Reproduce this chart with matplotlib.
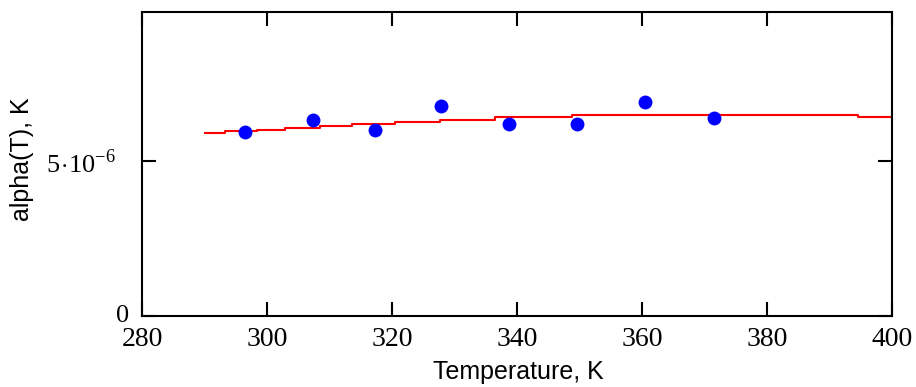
import numpy as np
import matplotlib
matplotlib.use('Agg')
import matplotlib.pyplot as plt

plt.rcParams['mathtext.fontset'] = 'custom'
plt.rcParams['mathtext.rm'] = 'Liberation Serif'

# measured points
temp = np.array([296.5, 307.4, 317.3, 327.8, 338.7, 349.6, 360.5, 371.5])
alpha = np.array([5.94, 6.32, 6.00, 6.77, 6.19, 6.19, 6.90, 6.39]) * 1e-6

# fitted curve (step-like as rendered)
fit_T = np.array([290.1, 293.3, 298.4, 302.9, 308.5, 313.6, 320.5, 327.7,
                  336.5, 348.8, 394.6, 400.0])
fit_a = np.array([5.89, 5.95, 6.00, 6.07, 6.14, 6.20, 6.27, 6.33,
                  6.40, 6.47, 6.40, 6.40]) * 1e-6

xticks = [280, 300, 320, 340, 360, 380, 400]
yticks = [0, 5e-6]
ylabels = ['0', r'$5\!\cdot\!10^{-6}$']

fig = plt.figure(figsize=(9.16, 3.87), dpi=100)
ax = fig.add_axes([142 / 916, 71 / 387, 750 / 916, 304 / 387])

ax.plot(fit_T, fit_a, color='#ff0000', lw=1.5, drawstyle='steps-post')
ax.plot(temp, alpha, 'o', color='#0000ff', ms=10, mec='none')

ax.set_xlim(280, 400)
ax.set_ylim(0, 9.8e-6)

ax.set_xticks(xticks)
ax.set_xticklabels([str(t) for t in xticks], family='Liberation Serif', fontsize=20)
ax.set_yticks(yticks)
ax.set_yticklabels(ylabels, family='Liberation Serif', fontsize=19)
ax.tick_params(direction='in', length=10, width=1.5, top=True, right=True, colors='black')
ax.tick_params(axis='x', pad=8)
yt = ax.yaxis.get_major_ticks()
yt[0].set_pad(9)
yt[1].set_pad(19)
yt[0].label1.set_fontsize(19)
yt[0].label1.set_va('center')

for s in ax.spines.values():
    s.set_linewidth(1.5)

fig.text(518 / 916, 15 / 387, 'Temperature, K', family='Liberation Sans', fontsize=18,
         ha='center', va='center')
fig.text(22 / 916, 228 / 387, 'alpha(T), K', family='Liberation Sans', fontsize=18,
         ha='center', va='center', rotation=90)

fig.savefig('out.png', dpi=100)
